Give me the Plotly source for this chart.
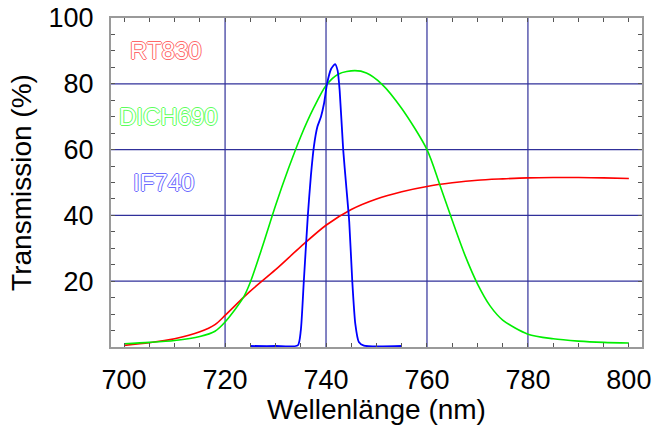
import plotly.graph_objects as go

# ---- data ----
rt830_nm = [700, 705, 710, 715, 718, 720, 723.6, 725, 730, 735, 740, 745, 750, 755, 760, 765, 770, 775, 780, 785, 790, 795, 800]
rt830_t = [0.5, 1.3, 2.5, 4.6, 6.8, 9.6, 15.0, 17.0, 23.5, 30.5, 37.0, 41.8, 45.0, 47.2, 48.8, 49.9, 50.7, 51.1, 51.4, 51.5, 51.5, 51.4, 51.2]

dich690_nm = [700, 705, 710, 715, 718, 720, 723.6, 725, 727.5, 730, 732.5, 735, 737.5, 740, 742.5, 745.7, 748, 751, 755, 760, 762.5, 765, 767.5, 770, 772.5, 775, 780, 785, 790, 795, 800]
dich690_t = [1.0, 1.4, 2.0, 3.2, 4.8, 7.6, 15.0, 19.7, 31.0, 43.0, 54.0, 64.0, 72.5, 79.5, 83.0, 84.0, 83.3, 80.0, 72.5, 60.0, 49.5, 38.5, 28.0, 19.2, 12.5, 8.2, 3.9, 2.5, 1.8, 1.4, 1.2]

if740_nm = [725, 730, 734.4, 735.0, 735.6, 736.4, 737.0, 737.6, 738.3, 739.0, 739.6, 740.2, 741.0, 741.8, 742.3, 742.7, 743.4, 744.0, 744.6, 745.2, 745.8, 746.5, 747.5, 755]
if740_t = [0.3, 0.3, 0.5, 5.0, 20.0, 40.0, 52.0, 61.0, 67.0, 70.0, 74.0, 80.0, 84.5, 86.0, 84.0, 78.0, 60.0, 49.0, 38.0, 20.0, 7.0, 1.5, 0.4, 0.3]

x_ticks = [700, 720, 740, 760, 780, 800]
y_ticks = [20, 40, 60, 80, 100]

labels = ["RT830", "DICH690", "IF740"]
label_x = [708.2, 708.7, 707.8]
label_y = [90, 70, 50]
label_colors = ["#ff6a6a", "#5cff5c", "#6b6bff"]

FONT = "Arial, Liberation Sans, Helvetica, sans-serif"
GRID = "#30309a"

fig = go.Figure()
fig.add_trace(go.Scatter(x=rt830_nm, y=rt830_t, mode="lines",
                         line=dict(color="#ff0000", width=1.6, shape="spline", smoothing=0.8)))
fig.add_trace(go.Scatter(x=dich690_nm, y=dich690_t, mode="lines",
                         line=dict(color="#00ee00", width=1.6, shape="spline", smoothing=0.8)))
fig.add_trace(go.Scatter(x=if740_nm, y=if740_t, mode="lines",
                         line=dict(color="#0000ff", width=1.8, shape="spline", smoothing=0.6)))

# inner grid lines (the reference has none on the frame edges)
for v in x_ticks[1:-1]:
    fig.add_shape(type="line", xref="x", yref="paper", x0=v, x1=v, y0=0, y1=1,
                  line=dict(color=GRID, width=1.2), layer="below")
for v in y_ticks[:-1]:
    fig.add_shape(type="line", xref="paper", yref="y", x0=0, x1=1, y0=v, y1=v,
                  line=dict(color=GRID, width=1.2), layer="below")

for t, xx, yy, c in zip(labels, label_x, label_y, label_colors):
    fig.add_annotation(x=xx, y=yy, xref="x", yref="y", text=t, showarrow=False,
                       font=dict(family=FONT, size=24, color="white",
                                 shadow=f"1px 0 0 {c}, -1px 0 0 {c}, 0 1px 0 {c}, 0 -1px 0 {c}"))

fig.update_layout(
    width=654, height=425,
    margin=dict(l=111, r=12, t=18, b=78),
    plot_bgcolor="white", paper_bgcolor="white",
    showlegend=False,
    font=dict(family=FONT, color="black"),
)
fig.update_xaxes(
    range=[697.4, 802.6], tickvals=x_ticks, showgrid=False, zeroline=False, automargin=False,
    showline=True, linecolor="#9a9a9a", linewidth=2, mirror="allticks",
    ticks="inside", ticklen=4, tickcolor="#555555",
    minor=dict(dtick=5, ticks="inside", ticklen=4, tickcolor="#555555", showgrid=False),
    tickfont=dict(size=27, color="black"), ticklabelstandoff=8,
    title=dict(text="Wellenlänge (nm)", font=dict(size=28, color="black"), standoff=10),
)
fig.update_yaxes(
    range=[0, 100], tickvals=y_ticks, showgrid=False, zeroline=False, automargin=False,
    showline=True, linecolor="#9a9a9a", linewidth=2, mirror="allticks",
    ticks="inside", ticklen=4, tickcolor="#555555",
    minor=dict(dtick=5, ticks="inside", ticklen=4, tickcolor="#555555", showgrid=False),
    tickfont=dict(size=27, color="black"), ticklabelstandoff=10,
    title=dict(text="Transmission (%)", font=dict(size=28, color="black"), standoff=9),
)

fig.write_html("out.html")
